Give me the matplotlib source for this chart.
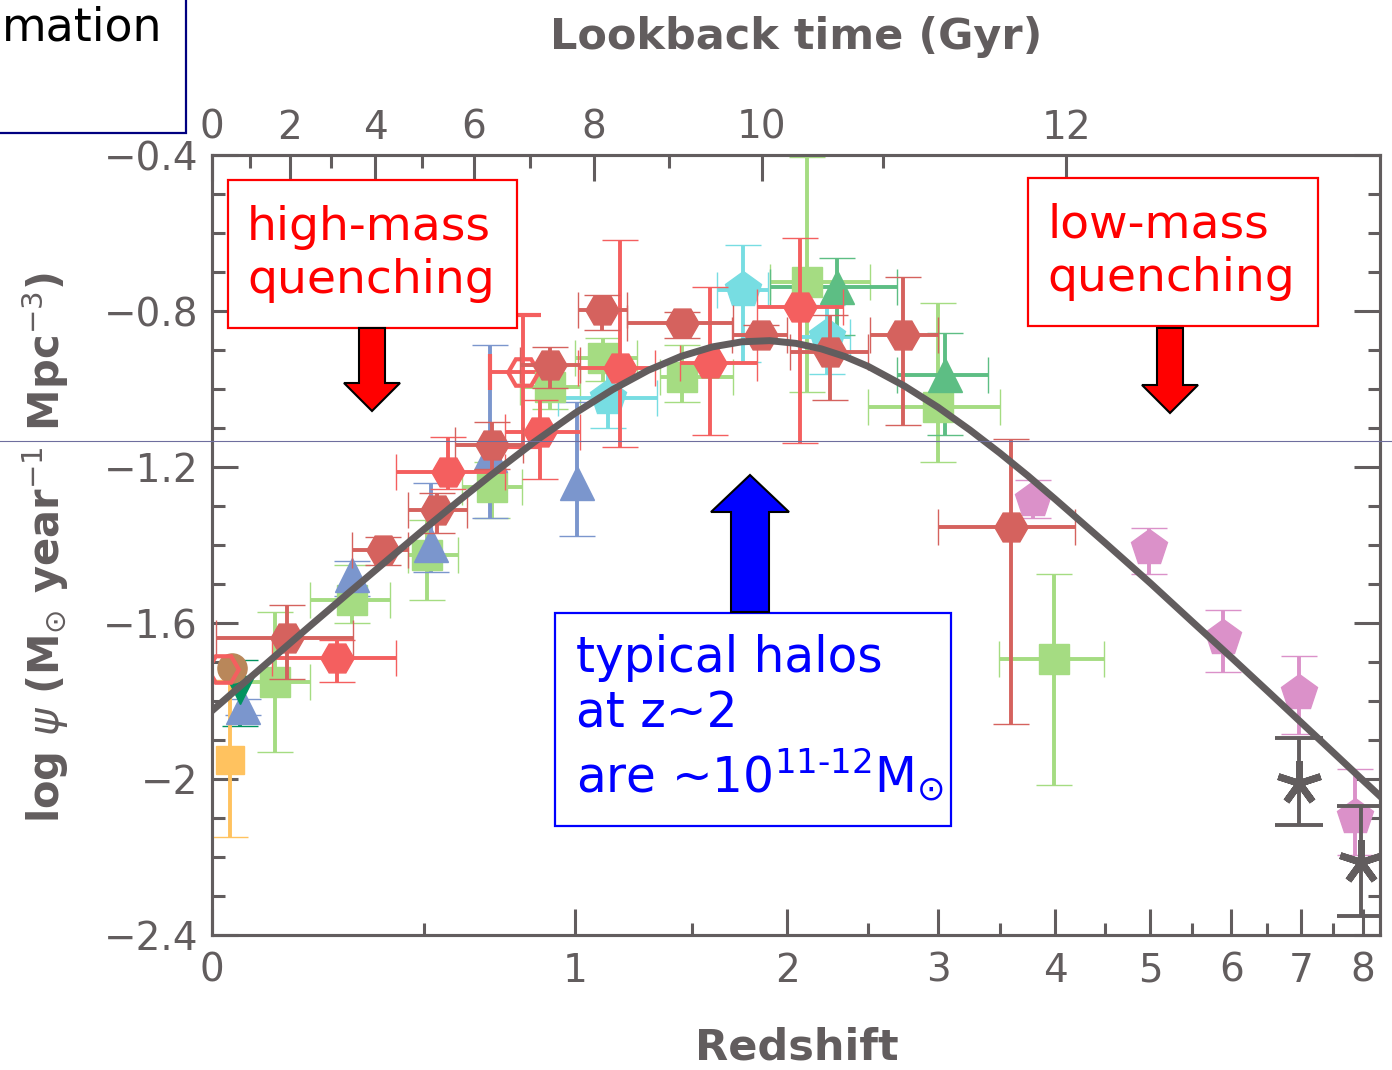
import numpy as np
import matplotlib.pyplot as plt
from matplotlib.patches import Rectangle, Polygon
from matplotlib.lines import Line2D

plt.rcParams["font.family"] = "DejaVu Sans"
plt.rcParams["mathtext.fontset"] = "dejavusans"

# ----------------------------------------------------------------------
# data: cosmic star formation rate density
# columns with x errors: z, z_lo, z_hi, log_psi, log_psi_lo, log_psi_hi
# columns without:       z, log_psi, log_psi_lo, log_psi_hi
# ----------------------------------------------------------------------
green_sq = [
    [0.128, 0.050, 0.206, -1.751, -1.931, -1.572],
    [0.306, 0.206, 0.405, -1.541, -1.600, -1.451],
    [0.508, 0.454, 0.600, -1.426, -1.541, -1.336],
    [0.707, 0.612, 0.807, -1.251, -1.331, -1.187],
    [0.906, 0.800, 1.019, -0.995, -1.050, -0.940],
    [1.110, 1.000, 1.250, -0.921, -0.980, -0.870],
    [1.453, 1.352, 1.704, -0.969, -1.033, -0.887],
    [2.114, 1.902, 2.510, -0.726, -1.008, -0.405],
    [3.000, 2.500, 3.500, -1.046, -1.187, -0.779],
    [3.991, 3.494, 4.491, -1.692, -2.015, -1.474],
]
blue_tri = [
    [0.061, -1.815, -1.835, -1.795],
    [0.306, -1.478, -1.530, -1.440],
    [0.520, -1.400, -1.469, -1.240],
    [0.701, -1.169, -1.331, -0.887],
    [1.008, -1.241, -1.377, -1.033],
]
cyan_pent = [
    [1.130, 0.936, 1.339, -1.023, -1.100, -0.950],
    [1.757, 1.624, 1.891, -0.746, -0.930, -0.631],
    [2.236, 2.073, 2.380, -0.867, -0.962, -0.785],
]
dkgreen_tri = [
    [2.299, 1.902, 2.699, -0.738, -0.862, -0.664],
    [3.053, 2.699, 3.400, -0.964, -1.118, -0.856],
]
teal_tri = [
    [0.055, -1.772, -1.864, -1.695],
]
orange_sq = [
    [0.035, -1.951, -2.149, -1.746],
]
brown_circ_z = [0.039]
brown_circ_lp = [-1.715]
red_hex = [
    [0.270, 0.121, 0.421, -1.690, -1.751, -1.644],
    [0.569, 0.420, 0.750, -1.213, -1.256, -1.123],
    [0.870, 0.750, 1.019, -1.110, -1.231, -1.028],
    [1.180, 1.011, 1.330, -0.946, -1.149, -0.618],
    [1.588, 1.444, 1.831, -0.933, -1.118, -0.738],
    [2.073, 1.831, 2.337, -0.790, -1.138, -0.613],
]
red_open = [
    [0.810, 0.700, 0.936, -0.956, -1.149, -0.810],
]
red_open_z0 = [0.021]
red_open_lp0 = [-1.718]
dkred_hex = [
    [0.154, 0.008, 0.309, -1.638, -1.744, -1.554],
    [0.386, 0.306, 0.454, -1.413, -1.451, -1.379],
    [0.537, 0.454, 0.627, -1.310, -1.369, -1.267],
    [0.707, 0.590, 0.810, -1.144, -1.205, -1.085],
    [0.906, 0.800, 1.019, -0.938, -0.997, -0.892],
    [1.106, 1.011, 1.208, -0.797, -0.849, -0.759],
    [1.453, 1.208, 1.704, -0.831, -0.869, -0.803],
    [1.850, 1.700, 2.000, -0.862, -0.882, -0.836],
    [2.254, 2.015, 2.499, -0.905, -1.028, -0.810],
    [2.741, 2.510, 3.000, -0.862, -1.092, -0.713],
    [3.600, 3.000, 4.195, -1.354, -1.859, -1.128],
]
pink_pent = [
    [3.796, -1.285, -1.331, -1.233],
    [4.984, -1.408, -1.474, -1.356],
    [5.893, -1.638, -1.726, -1.567],
    [6.969, -1.779, -1.885, -1.685],
    [7.867, -2.097, -2.195, -1.974],
]
gray_ast = [
    [6.969, -2.010, -2.118, -1.895],
    [7.969, -2.213, -2.351, -2.069],
]

# best-fit density curve
curve_z = [0.0, 0.05, 0.1, 0.2, 0.3, 0.4, 0.5, 0.6, 0.7, 0.85, 1.0, 1.15, 1.3,
           1.45, 1.6, 1.75, 1.9, 2.05, 2.2, 2.35, 2.5, 2.75, 3.0, 3.25, 3.5,
           3.75, 4.0, 4.5, 5.0, 5.5, 6.0, 6.5, 7.0, 7.5, 8.0, 8.3]
curve_lp = [-1.825, -1.768, -1.714, -1.613, -1.521, -1.437, -1.359, -1.288,
            -1.223, -1.136, -1.062, -1.001, -0.952, -0.916, -0.892, -0.879,
            -0.876, -0.883, -0.897, -0.917, -0.942, -0.992, -1.047, -1.105,
            -1.164, -1.223, -1.282, -1.394, -1.498, -1.597, -1.688, -1.774,
            -1.855, -1.931, -2.003, -2.044]

z_ticks = [0, 1, 2, 3, 4, 5, 6, 7, 8]
z_minor = [0.5, 1.5, 2.5, 3.5, 4.5, 5.5, 6.5, 7.5]
lookback_major = [0, 2, 4, 6, 8, 10, 12]
lookback_minor = [1, 3, 5, 7, 9, 11]
y_ticks = [-2.4, -2.0, -1.6, -1.2, -0.8, -0.4]
y_labels = ["\u22122.4", "\u22122", "\u22121.6", "\u22121.2", "\u22120.8", "\u22120.4"]

GRAY = "#625D5E"
W, H = 1392, 1070


def lz(z):
    return np.log10(1.0 + np.asarray(z, dtype=float))


# lookback time (Gyr) for H0=70, Om=0.3, OL=0.7
zz = np.linspace(0, 15, 30001)
integrand = 1.0 / ((1 + zz) * np.sqrt(0.3 * (1 + zz) ** 3 + 0.7))
t_lb = (977.8 / 70.0) * np.concatenate(
    [[0.0], np.cumsum(0.5 * (integrand[1:] + integrand[:-1]) * np.diff(zz))])


def lookback_to_x(t):
    return lz(np.interp(t, t_lb, zz))


# ======================
# figure / axes
# ======================
fig = plt.figure(figsize=(W / 100, H / 100), dpi=100)
ax = fig.add_axes([212 / W, 1 - 935 / H, 1168 / W, 780 / H])
ax.set_xlim(0, lz(8.3))
ax.set_ylim(-2.4, -0.4)


def draw_series(rows, marker, color, ms, with_xerr=True, open_face=False, z=3):
    d = np.array(rows, dtype=float)
    if with_xerr:
        zc, zlo, zhi, lp, lplo, lphi = d.T
        xerr = [lz(zc) - lz(zlo), lz(zhi) - lz(zc)]
    else:
        zc, lp, lplo, lphi = d.T
        xerr = None
    yerr = [lp - lplo, lphi - lp]
    ax.errorbar(lz(zc), lp, xerr=xerr, yerr=yerr, fmt=marker, color=color,
                ms=ms, mfc="none" if open_face else color, mec=color,
                mew=3 if open_face else 1, elinewidth=2.8, capsize=13,
                capthick=2.8, zorder=z)


draw_series(green_sq, "s", "#A5DC82", 21)
draw_series(blue_tri, "^", "#7B96CD", 24, with_xerr=False)
draw_series(teal_tri, "v", "#00935F", 20, with_xerr=False)
draw_series(orange_sq, "s", "#FFC25F", 20, with_xerr=False)
draw_series(cyan_pent, "p", "#77DDE2", 27)
draw_series(dkgreen_tri, "^", "#5DBE84", 24)
draw_series(red_open, "H", "#F45F5F", 22, open_face=True)
draw_series(red_hex, "H", "#F45F5F", 24, z=4)
draw_series(dkred_hex, "H", "#D5625E", 24, z=4)
draw_series(pink_pent, "p", "#DB91C9", 27, with_xerr=False)
ax.plot(lz(brown_circ_z), brown_circ_lp, "o", color="#B9875A", ms=21, zorder=4)
ax.plot(lz(red_open_z0), red_open_lp0, "H", mfc="none", mec="#F45F5F",
        mew=3, ms=22, zorder=4)

d_ast = np.array(gray_ast)
ax.errorbar(lz(d_ast[:, 0]), d_ast[:, 1],
            yerr=[d_ast[:, 1] - d_ast[:, 2], d_ast[:, 3] - d_ast[:, 1]],
            fmt="none", ecolor=GRAY, elinewidth=2.8, capsize=17, capthick=2.8,
            zorder=5)
ax.plot(lz(d_ast[:, 0]), d_ast[:, 1], linestyle="none", marker=(5, 2, 0),
        ms=32, mew=5, color=GRAY, zorder=5)

# fit curve
ax.plot(lz(curve_z), curve_lp, color=GRAY, lw=5, zorder=6,
        solid_joinstyle="round")

# ======================
# axes styling
# ======================
for s in ax.spines.values():
    s.set_color(GRAY)
    s.set_linewidth(2.2)

ax.set_xticks(lz(z_ticks))
ax.set_xticklabels([str(v) for v in z_ticks])
ax.set_xticks(lz(z_minor), minor=True)
ax.set_yticks(y_ticks)
ax.set_yticklabels(y_labels)
ax.set_yticks(np.arange(-2.4, -0.35, 0.1), minor=True)
ax.tick_params(which="both", direction="in", color=GRAY, width=2.2,
               right=True, top=False, labelcolor=GRAY, labelsize=28)
ax.tick_params(which="major", length=19)
ax.tick_params(which="minor", length=9)
ax.tick_params(axis="x", pad=12)
ax.tick_params(axis="y", pad=10)

ax2 = ax.twiny()
ax2.set_xlim(ax.get_xlim())
ax2.set_xticks(lookback_to_x(lookback_major))
ax2.set_xticklabels([str(v) for v in lookback_major])
ax2.set_xticks(lookback_to_x(lookback_minor), minor=True)
ax2.tick_params(which="both", direction="in", color=GRAY, width=2.2,
                labelcolor=GRAY, labelsize=28, pad=6)
ax2.tick_params(which="major", length=19)
ax2.tick_params(which="minor", length=9)
for s in ax2.spines.values():
    s.set_color(GRAY)
    s.set_linewidth(2.2)


def fx(x):
    return x / W


def fy(y):
    return 1 - y / H


fig.text(fx(797), fy(1048), "Redshift", ha="center", va="center",
         fontsize=31, fontweight="bold", color=GRAY)
fig.text(fx(796), fy(37), "Lookback time (Gyr)", ha="center", va="center",
         fontsize=31, fontweight="bold", color=GRAY)
fig.text(fx(45), fy(548),
         r"log $\psi$ (M$_{\odot}$ year$^{-1}$ Mpc$^{-3}$)",
         ha="center", va="center", rotation=90,
         fontsize=30, fontweight="bold", color=GRAY)

# ======================
# overlay annotations
# ======================
def box(x0, y0, x1, y1, color, lw=1.6):
    fig.add_artist(Rectangle((fx(x0), fy(y1)), (x1 - x0) / W, (y1 - y0) / H,
                             transform=fig.transFigure, fc="white", ec=color,
                             lw=lw, zorder=7))


def block_arrow(cx, y_tail, y_tip, shaft_hw, head_hw, head_len, color):
    d = 1 if y_tip > y_tail else -1
    yb = y_tip - d * head_len
    pts = [(cx - shaft_hw, y_tail), (cx - shaft_hw, yb), (cx - head_hw, yb),
           (cx, y_tip), (cx + head_hw, yb), (cx + shaft_hw, yb),
           (cx + shaft_hw, y_tail)]
    fig.add_artist(Polygon([(fx(x), fy(y)) for x, y in pts], closed=True,
                           transform=fig.transFigure, fc=color, ec="black",
                           lw=1.5, zorder=8))


box(228, 180, 517, 328, "red")
fig.text(fx(247), fy(254), "high-mass\nquenching", ha="left", va="center",
         fontsize=34, color="red", linespacing=1.25, zorder=9)
block_arrow(372, 328, 411, 13, 28, 28, "red")

box(1028, 178, 1318, 326, "red")
fig.text(fx(1047), fy(252), "low-mass\nquenching", ha="left", va="center",
         fontsize=34, color="red", linespacing=1.25, zorder=9)
block_arrow(1170, 328, 413, 13, 28, 28, "red")

box(555, 613, 951, 826, "blue")
fig.text(fx(576), fy(719),
         "typical halos\nat z~2\nare ~10$^{11\u201012}$M$_{\\odot}$",
         ha="left", va="center", fontsize=35, color="blue", linespacing=1.2,
         zorder=9)
block_arrow(750, 612, 475, 19, 39, 37, "blue")

# corner panel from the slide
fig.add_artist(Rectangle((fx(-10), fy(133)), 196 / W, 143 / H,
                         transform=fig.transFigure, fc="white", ec="#000080",
                         lw=1.6, zorder=7))
fig.text(fx(2), fy(28), "mation", ha="left", va="center", fontsize=33,
         color="black", zorder=9)

# thin guide line across the slide
fig.add_artist(Line2D([0, 1], [fy(441), fy(441)], transform=fig.transFigure,
                      color="#6E6E9E", lw=0.8, zorder=10))

plt.savefig("out.png", dpi=100)
